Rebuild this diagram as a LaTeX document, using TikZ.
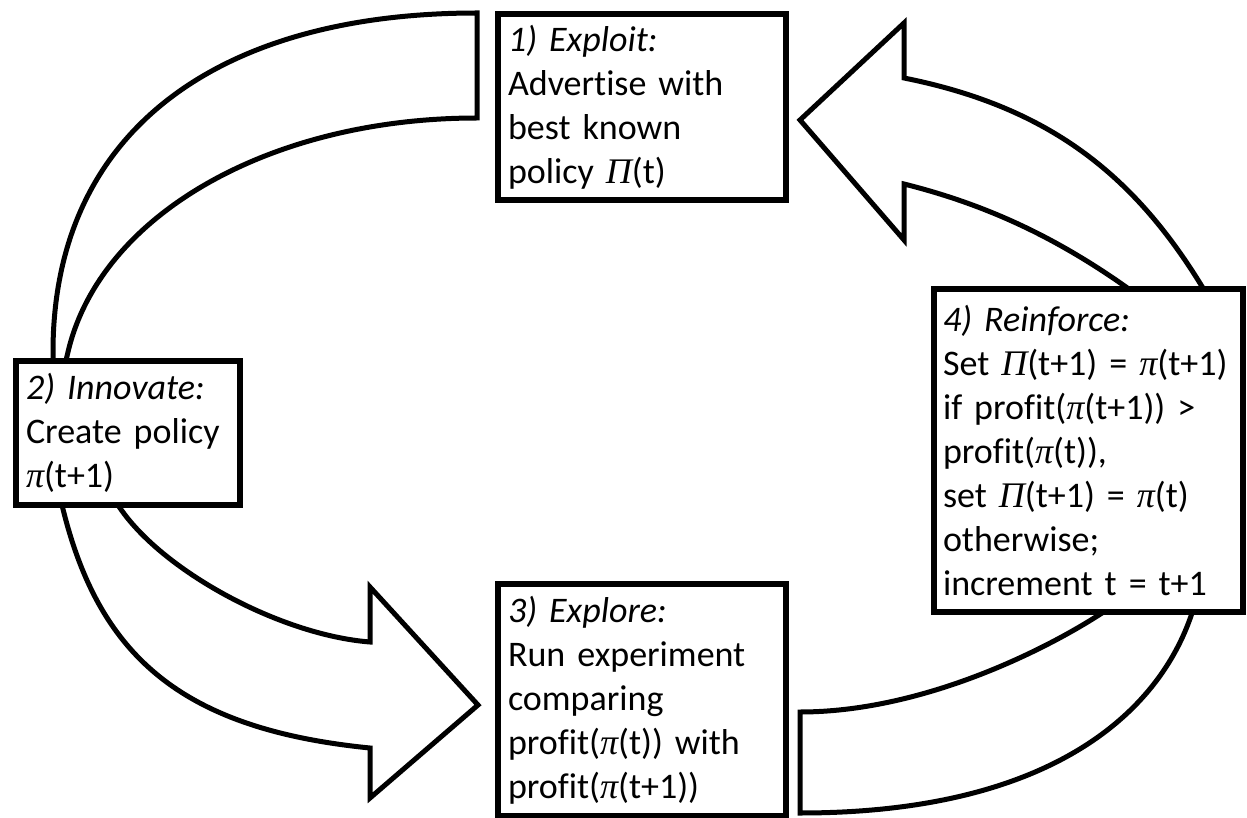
\documentclass[tikz,border=0pt]{standalone}
\usepackage{fontspec}
\setmainfont[Ligatures=NoCommon]{Carlito}
\newfontfamily\greekfont{Liberation Serif}
\newcommand{\ppi}{{\greekfont\itshape π}}
\newcommand{\PPi}{{\greekfont\itshape Π}}
\usepackage{tikz}
\usetikzlibrary{positioning}
\tikzset{stagenode/.style={rectangle, draw=black, fill=white, line width=6pt, anchor=north west, align=left, inner xsep=10pt, inner ysep=0pt, font=\fontsize{36pt}{44pt}\selectfont}}
\tikzset{blockarrow/.style={draw=black, fill=white, line width=5pt, line join=miter}}

\begin{document}
\begin{tikzpicture}[x=1pt, y=-1pt]
    \useasboundingbox (0,0) rectangle (1247,818);

    \draw[blockarrow] (477,13) .. controls (217,13) and (53,132) .. (53,352) -- (53,390) -- (59,390) -- (68,352) .. controls (100,215) and (270,118) .. (477,118) -- cycle;
    \draw[blockarrow] (62,505) .. controls (98,655) and (180,729) .. (370,748) -- (370,798) -- (478,705) -- (370,587) -- (370,642) .. controls (280,635) and (160,570) .. (118,505) -- (96,470) -- (54,470) -- cycle;
    \draw[blockarrow] (800,712) .. controls (920,712) and (1042,652) .. (1102,613) -- (1139,589) -- (1200,589) -- (1192,613) .. controls (1159,713) and (1050,813) .. (800,813) -- cycle;
    \draw[blockarrow] (1198,280) -- (1211,301) -- (1146,301) -- (1116,280) .. controls (1050,235) and (984,204) .. (904,184) -- (904,240) -- (800,120) -- (904,23) -- (904,78) .. controls (1044,106) and (1129,170) .. (1198,280) -- cycle;

    \node[stagenode, text width=268pt, minimum height=186pt] (exploit)   at (495,11)  {\textit{1) Exploit:}\\Advertise with\\best known\\policy \PPi(t)};
    \node[stagenode, text width=204pt, minimum height=144pt] (innovate)  at (13,358)  {\textit{2) Innovate:}\\Create policy\\\ppi(t+1)};
    \node[stagenode, text width=268pt, minimum height=232pt] (explore)   at (495,581) {\textit{3) Explore:}\\Run experiment\\comparing\\profit(\ppi(t)) with\\profit(\ppi(t+1))};
    \node[stagenode, inner xsep=9pt, text width=291pt, minimum height=323pt] (reinforce) at (931,286) {\textit{4) Reinforce:}\\Set~\PPi(t+1)~=~\ppi(t+1)\\if~profit(\ppi(t+1))~>\\profit(\ppi(t)),\\set~\PPi(t+1)~=~\ppi(t)\\otherwise;\\increment~t~=~t+1};
\end{tikzpicture}
\end{document}
